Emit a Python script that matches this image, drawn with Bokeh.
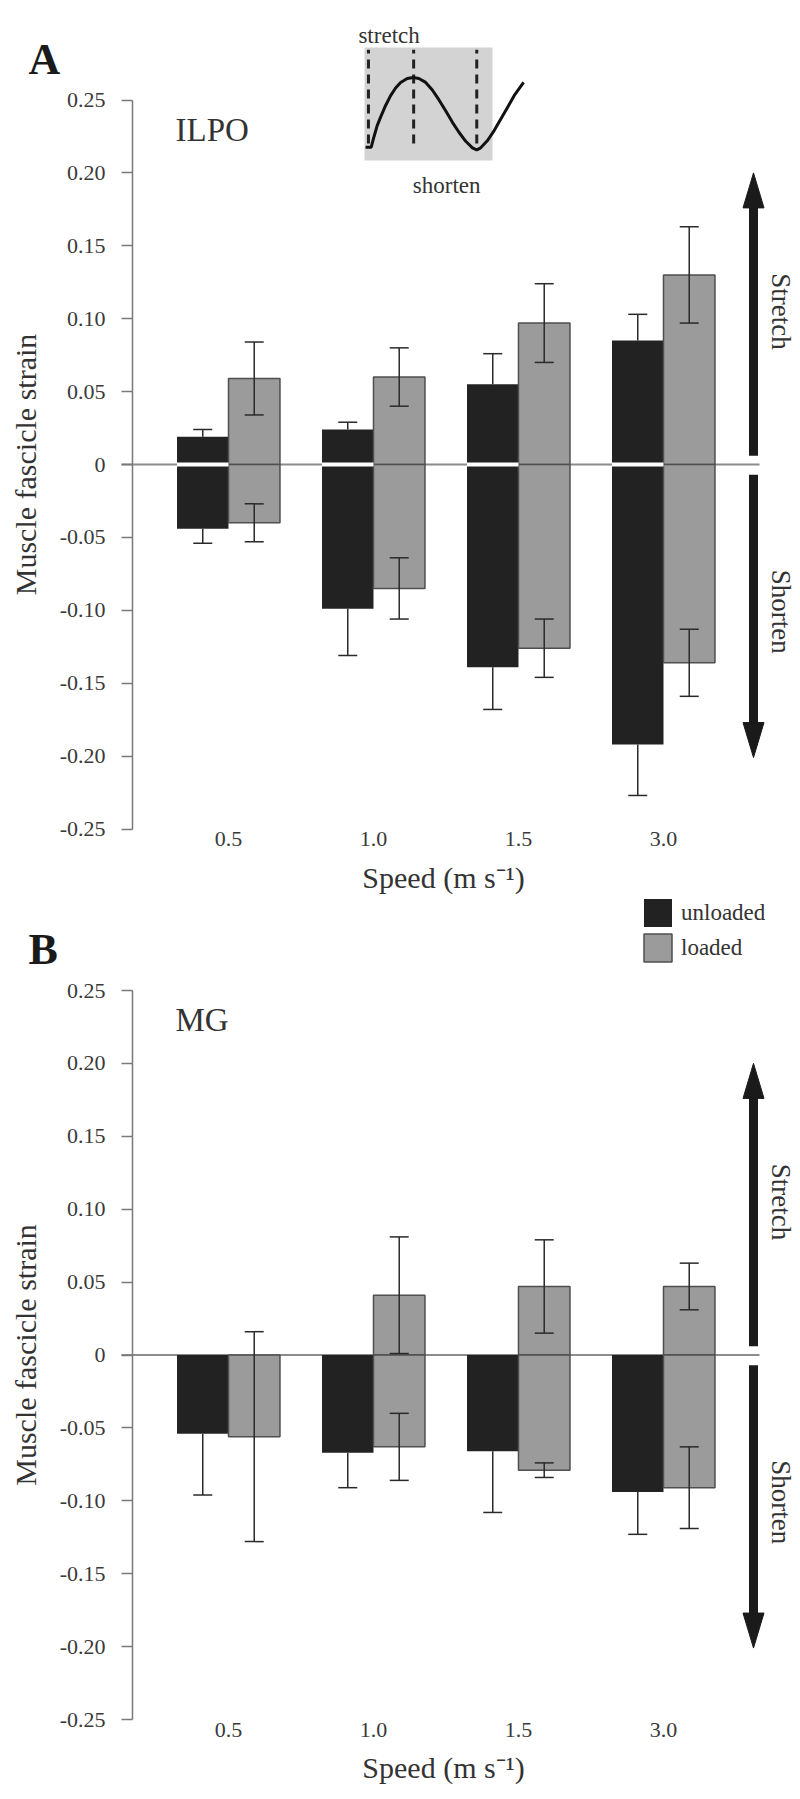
import numpy as np
from bokeh.plotting import figure
from bokeh.models import (ColumnDataSource, Range1d, FixedTicker, Whisker,
                          TeeHead, Legend, LegendItem)
from bokeh.layouts import column
from bokeh.embed import file_html
from bokeh.resources import INLINE
from bokeh.core.properties import value

# ---------------- data ----------------
speeds = ["0.5", "1.0", "1.5", "3.0"]

# Panel A: ILPO
ilpo_unloaded_stretch = [0.019, 0.024, 0.055, 0.085]
ilpo_unloaded_stretch_err = [0.005, 0.005, 0.021, 0.018]
ilpo_loaded_stretch = [0.059, 0.060, 0.097, 0.130]
ilpo_loaded_stretch_err = [0.025, 0.020, 0.027, 0.033]
ilpo_unloaded_shorten = [-0.044, -0.099, -0.139, -0.192]
ilpo_unloaded_shorten_err = [0.010, 0.032, 0.029, 0.035]
ilpo_loaded_shorten = [-0.040, -0.085, -0.126, -0.136]
ilpo_loaded_shorten_err = [0.013, 0.021, 0.020, 0.023]

# Panel B: MG
mg_unloaded_stretch = [0.0, 0.0, 0.0, 0.0]
mg_unloaded_stretch_err = [0.0, 0.0, 0.0, 0.0]
mg_loaded_stretch = [0.0, 0.041, 0.047, 0.047]
mg_loaded_stretch_err = [0.0, 0.040, 0.032, 0.016]
mg_unloaded_shorten = [-0.054, -0.067, -0.066, -0.094]
mg_unloaded_shorten_err = [0.042, 0.024, 0.042, 0.029]
mg_loaded_shorten = [-0.056, -0.063, -0.079, -0.091]
mg_loaded_shorten_err = [0.072, 0.023, 0.005, 0.028]

y_tick_values = [0.25, 0.20, 0.15, 0.10, 0.05, 0.0, -0.05, -0.10, -0.15, -0.20, -0.25]
y_tick_labels = ["0.25", "0.20", "0.15", "0.10", "0.05", "0", "-0.05", "-0.10", "-0.15", "-0.20", "-0.25"]

series_names = ["unloaded", "loaded"]
y_title = "Muscle fascicle strain"
x_title = "Speed (m s\u207b\u00b9)"

# side arrows (strain direction): tail, tip, label, label centre (strain units)
arrow_tails = [0.006, -0.007]
arrow_tips = [0.200, -0.201]
arrow_labels = ["Stretch", "Shorten"]
arrow_label_y = [0.105, -0.101]

# inset schematic (normalised to its grey box: phase u, length v)
inset_u = [0.008, 0.052, 0.073, 0.099, 0.125, 0.164, 0.204, 0.243, 0.282, 0.334, 0.381,
           0.425, 0.478, 0.530, 0.582, 0.634, 0.687, 0.738, 0.791, 0.843, 0.877, 0.908,
           0.961, 1.013, 1.065, 1.117, 1.169, 1.243]
inset_v = [0.117, 0.117, 0.206, 0.309, 0.382, 0.485, 0.574, 0.642, 0.691, 0.726, 0.735,
           0.726, 0.691, 0.624, 0.536, 0.441, 0.338, 0.250, 0.170, 0.112, 0.094, 0.112,
           0.177, 0.265, 0.368, 0.470, 0.574, 0.691]
inset_marks_u = [0.031, 0.384, 0.877]
inset_texts = ["stretch", "shorten"]
inset_text_u = [0.192, 0.642]
inset_text_v = [1.103, -0.221]

# ---------------- style / layout ----------------
FONT = "Liberation Serif"
BLACK = "#222222"
GREY = "#9b9b9b"
GREY_LINE = "#4f4f4f"
TEXT = "#333333"
AXIS = "#7a7a7a"

FIG_W = 800
PX_X, PX_Y = 145.0, 1458.0          # pixels per data unit
AXIS_X = 0.338                        # data x of the strain axis (page x 132)
X_LO = AXIS_X - 132 / PX_X
X_HI = X_LO + FIG_W / PX_X


def fx(px):   # page x -> data x
    return X_LO + px / PX_X


BAR_W = 0.355
OFF = BAR_W / 2
ARROW_X = fx(753)
ARROW_TEXT_X = fx(780)
ZERO_X0, ZERO_X1 = fx(121), fx(759)
HEAD_LEN = 35 / PX_Y
HEAD_HALF = 10.5 / PX_X

idx = np.arange(1, len(speeds) + 1)


def add_bars(p, vals, errs, offset, fill, line, lw, outer_only=False):
    keep = [i for i, v in enumerate(vals) if v != 0]
    tops = [vals[i] for i in keep]
    up = [vals[i] + errs[i] for i in keep]
    lo = [vals[i] - errs[i] for i in keep]
    positive = all(t > 0 for t in tops)
    if outer_only:
        if positive:
            lo = tops
        else:
            up = tops
    src = ColumnDataSource(dict(x=[float(idx[i] + offset) for i in keep],
                                top=tops, upper=up, lower=lo))
    r = p.vbar(x="x", top="top", bottom=0, width=BAR_W, source=src,
               fill_color=fill, line_color=line, line_width=lw)
    wc = "#2a2a2a"
    head = lambda: TeeHead(size=19, line_color=wc, line_width=1.5)
    uh = head()
    lh = head()
    if outer_only:
        if positive:
            lh = None
        else:
            uh = None
    w = Whisker(source=src, base="x", upper="upper", lower="lower", dimension="height",
                line_color=wc, line_width=1.5, level="annotation",
                upper_head=uh, lower_head=lh)
    p.add_layout(w)
    return r


def make_panel(letter, muscle, unl_s, unl_s_e, ld_s, ld_s_e, unl_h, unl_h_e, ld_h, ld_h_e,
               fig_top, tick_top, height, inset=False, legend=False):
    # page y of the +0.25 tick -> data range of this panel
    y_hi = 0.25 + (tick_top - fig_top) / PX_Y
    y_lo = y_hi - height / PX_Y

    def fy(py):   # page y -> data y for this panel
        return y_hi - (py - fig_top) / PX_Y

    p = figure(width=FIG_W, height=height,
               x_range=Range1d(X_LO, X_HI), y_range=Range1d(y_lo, y_hi),
               output_backend="svg", toolbar_location=None,
               min_border=0, min_border_left=0, min_border_right=0,
               min_border_top=0, min_border_bottom=0)
    p.outline_line_color = None
    p.xgrid.visible = False
    p.ygrid.visible = False
    p.background_fill_color = "white"

    # zero line
    p.segment(x0=[ZERO_X0], y0=[0], x1=[ZERO_X1], y1=[0], line_color="#8c8c8c", line_width=2)

    add_bars(p, unl_s, unl_s_e, -OFF, BLACK, None, 0, outer_only=True)
    r_b = add_bars(p, unl_h, unl_h_e, -OFF, BLACK, None, 0, outer_only=True)
    add_bars(p, ld_s, ld_s_e, OFF, GREY, GREY_LINE, 1.5)
    r_g = add_bars(p, ld_h, ld_h_e, OFF, GREY, GREY_LINE, 1.5)

    # white gap at zero on black bars that have both parts
    gap_x = [float(idx[i] - OFF) for i in range(len(speeds)) if unl_s[i] > 0 and unl_h[i] < 0]
    if gap_x:
        p.rect(x=gap_x, y=[0] * len(gap_x), width=BAR_W, height=4, height_units="screen",
               fill_color="white", line_color=None)

    # strain axis
    ya = p.yaxis[0]
    ya.fixed_location = AXIS_X
    ya.ticker = FixedTicker(ticks=y_tick_values)
    ya.major_label_overrides = {v: l for v, l in zip(y_tick_values, y_tick_labels)}
    ya.bounds = (-0.25, 0.25)
    ya.axis_line_color = AXIS
    ya.axis_line_width = 1.5
    ya.major_tick_line_color = AXIS
    ya.major_tick_line_width = 1.5
    ya.major_tick_out = 11
    ya.major_tick_in = 0
    ya.minor_tick_line_color = None
    ya.major_label_standoff = 16
    ya.major_label_text_font = FONT
    ya.major_label_text_font_size = "22px"
    ya.major_label_text_color = "#3a3a3a"

    # speed axis
    xa = p.xaxis[0]
    xa.fixed_location = -0.2503
    xa.ticker = FixedTicker(ticks=[int(i) for i in idx])
    xa.major_label_overrides = {int(i): s for i, s in zip(idx, speeds)}
    xa.axis_line_color = None
    xa.major_tick_line_color = None
    xa.minor_tick_line_color = None
    xa.major_tick_out = 0
    xa.major_tick_in = 0
    xa.major_label_standoff = 3
    xa.major_label_text_font = FONT
    xa.major_label_text_font_size = "22px"
    xa.major_label_text_color = "#3a3a3a"

    # axis titles
    p.text(x=[fx(25)], y=[0.0], text=[y_title], angle=np.pi / 2,
           text_font=value(FONT), text_font_size="30px", text_color=TEXT,
           text_align="center", text_baseline="middle")
    p.text(x=[fx(443)], y=[-0.25 - 48 / PX_Y], text=[x_title],
           text_font=value(FONT), text_font_size="30px", text_color=TEXT,
           text_align="center", text_baseline="middle")
    # panel letter
    p.text(x=[fx(28)], y=[0.25 + 41 / PX_Y], text=[letter], text_font=value(FONT),
           text_font_size="44px", text_font_style="bold", text_color="#1a1a1a",
           text_align="left", text_baseline="alphabetic")
    # muscle name
    p.text(x=[fx(175)], y=[0.2295], text=[muscle],
           text_font=value(FONT), text_font_size="33px", text_color=TEXT,
           text_align="left", text_baseline="alphabetic")

    # direction arrows
    p.segment(x0=[ARROW_X] * 2, y0=arrow_tails, x1=[ARROW_X] * 2,
              y1=[t - np.sign(t) * HEAD_LEN * 0.9 for t in arrow_tips],
              line_color="#1a1a1a", line_width=9)
    xs = [[ARROW_X - HEAD_HALF, ARROW_X, ARROW_X + HEAD_HALF] for _ in arrow_tips]
    ys = [[t - np.sign(t) * HEAD_LEN, t, t - np.sign(t) * HEAD_LEN] for t in arrow_tips]
    p.patches(xs=xs, ys=ys, fill_color="#1a1a1a", line_color="#1a1a1a", line_width=1)
    p.text(x=[ARROW_TEXT_X] * 2, y=arrow_label_y, text=arrow_labels, angle=-np.pi / 2,
           text_font=value(FONT), text_font_size="27px", text_color=TEXT,
           text_align="center", text_baseline="middle")

    if inset:
        l, r, b, t = fx(364), fx(492), fy(160), fy(47)
        sx = lambda u: l + np.asarray(u) * (r - l)
        sy = lambda v: b + np.asarray(v) * (t - b)
        p.quad(left=[l], right=[r], bottom=[b], top=[t], fill_color="#d3d3d3", line_color=None)
        mx = sx(inset_marks_u)
        p.segment(x0=mx, y0=[sy(0.15)] * 3, x1=mx, y1=[sy(0.98)] * 3,
                  line_color="#222222", line_width=3, line_dash="9 6")
        p.line(x=sx(inset_u), y=sy(inset_v), line_color="#111111", line_width=3)
        p.text(x=sx(inset_text_u), y=sy(inset_text_v), text=inset_texts,
               text_font=value(FONT), text_font_size="23px", text_color=TEXT,
               text_align="center", text_baseline="alphabetic")

    if legend:
        # legend squares at page y 905-962; glyph boxes are inset 10 %
        leg_bottom_fig = (962 + 3.5) - fig_top
        lg = Legend(items=[LegendItem(label=series_names[0], renderers=[r_b]),
                           LegendItem(label=series_names[1], renderers=[r_g])],
                    location=(640, int(round(height - leg_bottom_fig))),
                    orientation="vertical",
                    glyph_width=35, glyph_height=35, label_height=35, spacing=-5,
                    padding=0, margin=0, label_standoff=6,
                    label_text_font=FONT, label_text_font_size="23px",
                    label_text_color=TEXT, background_fill_alpha=0,
                    border_line_color=None)
        p.add_layout(lg)
    return p


pA = make_panel("A", "ILPO", ilpo_unloaded_stretch, ilpo_unloaded_stretch_err,
                ilpo_loaded_stretch, ilpo_loaded_stretch_err,
                ilpo_unloaded_shorten, ilpo_unloaded_shorten_err,
                ilpo_loaded_shorten, ilpo_loaded_shorten_err,
                fig_top=0, tick_top=99.5, height=898, inset=True)
pB = make_panel("B", "MG", mg_unloaded_stretch, mg_unloaded_stretch_err,
                mg_loaded_stretch, mg_loaded_stretch_err,
                mg_unloaded_shorten, mg_unloaded_shorten_err,
                mg_loaded_shorten, mg_loaded_shorten_err,
                fig_top=898, tick_top=990.0, height=897, legend=True)

layout = column(pA, pB, spacing=0)
open("out.html", "w").write(file_html(layout, INLINE))
